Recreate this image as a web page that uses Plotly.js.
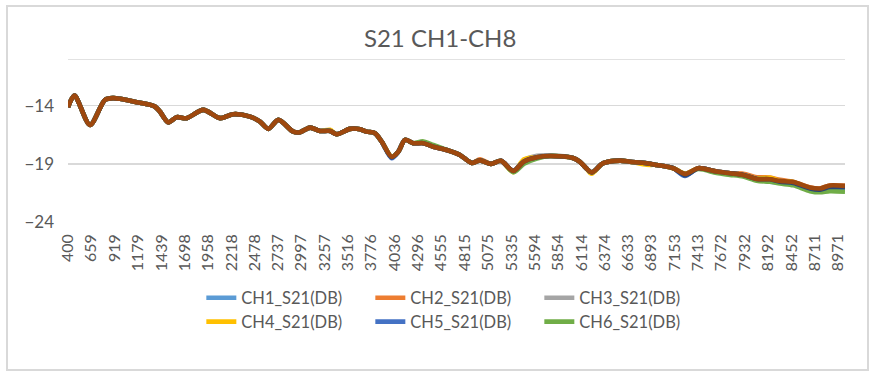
<!DOCTYPE html>
<html>
<head>
<meta charset="utf-8">
<script src="https://cdn.plot.ly/plotly-3.0.1.min.js"></script>
<style>
  html, body { margin: 0; padding: 0; background: #fff; }
  #wrap { position: relative; width: 875px; height: 375px; }
  #chart { position: absolute; left: 0; top: 0; width: 875px; height: 375px; }
  #frame { position: absolute; left: 6px; top: 5px; width: 859px; height: 362px;
           border: 2px solid #d9d9d9; pointer-events: none; }
</style>
</head>
<body>
<div id="wrap"><div id="chart"></div><div id="frame"></div></div>
<script>
// Frequency (MHz) sample points
const freq = [400,472,645,812,904,979,1165,1368,1424,1516,1610,1721,1906,2092,2240,2426,2537,2630,2741,2908,2982,3094,3205,3316,3391,3539,3650,3725,3817,3892,4003,4077,4151,4243,4355,4466,4615,4763,4894,4986,5108,5220,5357,5476,5620,5765,6021,6099,6166,6229,6358,6544,6656,6841,6953,7137,7268,7416,7621,7769,7917,8066,8214,8325,8474,8659,8770,8881,9049];

const ch1 = [-14.15,-13.14,-15.66,-13.51,-13.36,-13.42,-13.71,-14.09,-14.52,-15.44,-15.00,-15.08,-14.37,-15.08,-14.74,-14.95,-15.38,-16.00,-15.23,-16.24,-16.29,-15.89,-16.18,-16.18,-16.46,-16.00,-16.03,-16.24,-16.37,-17.10,-18.45,-17.96,-16.95,-17.23,-17.23,-17.53,-17.81,-18.24,-18.93,-18.71,-19.01,-18.75,-19.61,-18.80,-18.44,-18.33,-18.50,-18.84,-19.36,-19.74,-18.95,-18.73,-18.82,-18.95,-19.10,-19.38,-19.98,-19.38,-19.67,-19.81,-19.96,-20.38,-20.45,-20.58,-20.68,-21.18,-21.25,-21.02,-21.05];
const ch2 = [-14.15,-13.14,-15.66,-13.51,-13.36,-13.42,-13.71,-14.09,-14.52,-15.44,-15.00,-15.08,-14.37,-15.08,-14.74,-14.95,-15.38,-16.00,-15.23,-16.24,-16.29,-15.89,-16.18,-16.18,-16.46,-16.00,-16.03,-16.24,-16.37,-17.10,-18.39,-17.96,-16.95,-17.23,-17.23,-17.53,-17.81,-18.24,-18.93,-18.62,-19.01,-18.75,-19.61,-18.80,-18.38,-18.33,-18.50,-18.84,-19.36,-19.74,-18.95,-18.73,-18.82,-18.95,-19.10,-19.38,-19.87,-19.38,-19.67,-19.81,-19.85,-20.15,-20.18,-20.38,-20.56,-21.03,-21.12,-20.86,-20.90];
const ch3 = [-14.15,-13.14,-15.66,-13.51,-13.36,-13.42,-13.71,-14.09,-14.52,-15.44,-15.00,-15.08,-14.37,-15.08,-14.74,-14.95,-15.38,-16.00,-15.23,-16.24,-16.29,-15.89,-16.18,-16.18,-16.46,-16.00,-16.03,-16.24,-16.37,-17.10,-18.39,-17.96,-16.95,-17.23,-17.23,-17.53,-17.81,-18.24,-18.93,-18.71,-19.01,-18.75,-19.61,-18.68,-18.32,-18.28,-18.50,-18.84,-19.36,-19.74,-18.95,-18.73,-18.82,-18.95,-19.10,-19.38,-19.87,-19.38,-19.67,-19.81,-19.96,-20.30,-20.33,-20.47,-20.56,-21.10,-21.20,-20.95,-21.00];
const ch4 = [-14.15,-13.14,-15.66,-13.51,-13.36,-13.42,-13.71,-14.09,-14.52,-15.44,-15.00,-15.08,-14.37,-15.08,-14.74,-14.95,-15.38,-16.00,-15.23,-16.24,-16.29,-15.89,-16.18,-16.08,-16.46,-16.00,-16.03,-16.24,-16.37,-17.10,-18.39,-17.96,-16.95,-17.23,-17.23,-17.53,-17.81,-18.24,-18.93,-18.71,-19.01,-18.75,-19.72,-18.62,-18.44,-18.33,-18.50,-18.84,-19.36,-19.86,-18.95,-18.73,-18.82,-19.08,-19.10,-19.38,-19.87,-19.38,-19.67,-19.81,-19.96,-20.25,-20.20,-20.47,-20.56,-21.12,-21.20,-20.98,-21.00];
const ch5 = [-14.15,-13.14,-15.66,-13.51,-13.36,-13.42,-13.71,-14.09,-14.52,-15.44,-15.00,-15.08,-14.37,-15.08,-14.74,-14.95,-15.38,-16.00,-15.23,-16.24,-16.29,-15.89,-16.18,-16.18,-16.46,-16.00,-16.03,-16.24,-16.37,-17.10,-18.52,-17.96,-16.95,-17.23,-17.23,-17.53,-17.81,-18.24,-18.93,-18.71,-19.01,-18.75,-19.61,-18.80,-18.44,-18.33,-18.50,-18.84,-19.36,-19.74,-18.95,-18.73,-18.82,-18.95,-19.10,-19.38,-20.05,-19.38,-19.67,-19.81,-19.96,-20.30,-20.55,-20.60,-20.70,-21.20,-21.30,-21.05,-21.10];
const ch6 = [-14.15,-13.14,-15.66,-13.51,-13.36,-13.42,-13.71,-14.09,-14.52,-15.44,-15.00,-15.08,-14.37,-15.08,-14.74,-14.95,-15.38,-16.00,-15.23,-16.24,-16.29,-15.89,-16.18,-16.18,-16.46,-16.00,-16.03,-16.24,-16.37,-17.10,-18.39,-17.96,-16.95,-17.23,-17.08,-17.38,-17.81,-18.24,-18.93,-18.71,-19.01,-18.75,-19.72,-19.00,-18.55,-18.33,-18.50,-18.84,-19.36,-19.74,-18.95,-18.73,-18.82,-18.95,-19.10,-19.38,-19.87,-19.45,-19.80,-19.95,-20.10,-20.45,-20.55,-20.70,-20.85,-21.35,-21.45,-21.35,-21.40];
const ch7 = [-14.15,-13.14,-15.66,-13.51,-13.36,-13.42,-13.71,-14.09,-14.52,-15.44,-15.00,-15.08,-14.37,-15.08,-14.74,-14.95,-15.38,-16.00,-15.23,-16.24,-16.29,-15.89,-16.18,-16.18,-16.46,-16.00,-16.03,-16.24,-16.37,-17.10,-18.45,-17.96,-16.95,-17.23,-17.23,-17.53,-17.81,-18.24,-18.93,-18.71,-19.01,-18.75,-19.61,-18.80,-18.44,-18.33,-18.50,-18.84,-19.36,-19.74,-18.95,-18.73,-18.82,-18.95,-19.10,-19.38,-19.98,-19.38,-19.67,-19.81,-19.96,-20.30,-20.33,-20.55,-20.65,-21.12,-21.22,-21.00,-21.00];
const ch8 = [-14.15,-13.14,-15.66,-13.51,-13.36,-13.42,-13.71,-14.09,-14.52,-15.44,-15.00,-15.08,-14.37,-15.08,-14.74,-14.95,-15.38,-16.00,-15.23,-16.24,-16.29,-15.89,-16.18,-16.18,-16.46,-16.00,-16.03,-16.24,-16.37,-17.10,-18.39,-17.96,-16.95,-17.23,-17.23,-17.53,-17.81,-18.24,-18.93,-18.71,-19.01,-18.75,-19.61,-18.80,-18.44,-18.33,-18.50,-18.84,-19.36,-19.74,-18.95,-18.73,-18.82,-18.95,-19.10,-19.38,-19.87,-19.38,-19.67,-19.81,-19.96,-20.30,-20.33,-20.47,-20.56,-21.03,-21.12,-20.86,-20.90];

const seriesNames = ['CH1_S21(DB)','CH2_S21(DB)','CH3_S21(DB)','CH4_S21(DB)','CH5_S21(DB)','CH6_S21(DB)','CH7_S21(DB)','CH8_S21(DB)'];
const seriesColors = ['#5B9BD5','#ED7D31','#A5A5A5','#FFC000','#4472C4','#70AD47','#264478','#9E480E'];
const xTickLabels = ['400','659','919','1179','1439','1698','1958','2218','2478','2737','2997','3257','3516','3776','4036','4296','4555','4815','5075','5335','5594','5854','6114','6374','6633','6893','7153','7413','7672','7932','8192','8452','8711','8971'];
const yTickVals = [-24,-19,-14];

const allSeries = [ch1,ch2,ch3,ch4,ch5,ch6,ch7,ch8];
const traces = allSeries.map((ys, i) => ({
  type: 'scatter', mode: 'lines', x: freq, y: ys, name: seriesNames[i],
  line: {color: seriesColors[i], width: 4.6, shape: 'spline', smoothing: 0.8},
  showlegend: i < 6,
  legend: i < 3 ? 'legend' : 'legend2',
  hoverinfo: 'skip'
}));

const legendBase = {
  orientation: 'h', xanchor: 'left', yanchor: 'middle',
  entrywidth: 124, entrywidthmode: 'pixels',
  font: {family: 'Lato, sans-serif', size: 16.5, color: '#595959'},
  bgcolor: 'rgba(0,0,0,0)', borderwidth: 0, traceorder: 'normal'
};

const layout = {
  width: 875, height: 375,
  margin: {l: 68, r: 30, t: 59, b: 153},
  paper_bgcolor: '#ffffff', plot_bgcolor: '#ffffff',
  font: {family: 'Lato, sans-serif', color: '#595959'},
  title: {text: 'S21 CH1-CH8', font: {family: 'Lato, sans-serif', size: 24, color: '#595959'},
          xref: 'container', yref: 'container', x: 0.503, y: 0.897, xanchor: 'center', yanchor: 'middle'},
  xaxis: {
    type: 'linear', range: [400, 9049],
    tickmode: 'array', tickvals: xTickLabels.map(Number), ticktext: xTickLabels,
    tickangle: -90, tickfont: {family: 'Lato, sans-serif', size: 16, color: '#595959'},
    showgrid: false, zeroline: false, showline: false, ticks: '',
    ticklabelstandoff: 8, automargin: false, fixedrange: true
  },
  yaxis: {
    range: [-24, -10], tickmode: 'array', tickvals: yTickVals,
    tickfont: {family: 'Lato, sans-serif', size: 17, color: '#595959'},
    showgrid: true, gridcolor: '#d9d9d9', gridwidth: 1.5,
    zeroline: false, showline: false, ticks: '',
    ticklabelstandoff: 13, automargin: false, fixedrange: true
  },
  shapes: [{type: 'line', xref: 'paper', yref: 'y', x0: 0, x1: 1, y0: -10, y1: -10,
            line: {color: '#d9d9d9', width: 1.5}, layer: 'below'}],
  legend: Object.assign({}, legendBase, {x: 0.1716, y: -0.466}),
  legend2: Object.assign({}, legendBase, {x: 0.1716, y: -0.613}),
  showlegend: true
};

Plotly.newPlot('chart', traces, layout, {displayModeBar: false, staticPlot: true});
</script>
</body>
</html>
